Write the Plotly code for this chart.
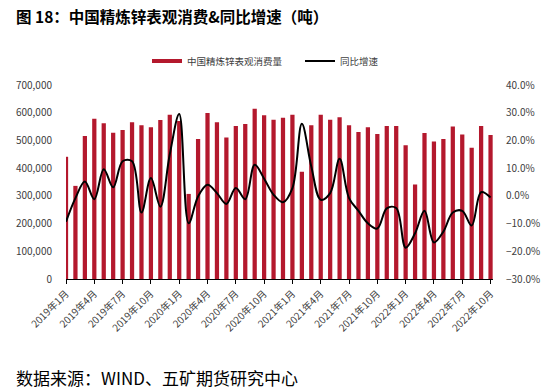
import plotly.graph_objects as go

months = [f"{y}年{m}月" for y in (2019, 2020, 2021, 2022) for m in range(1, 13)][:46]

consumption = [441000, 336000, 516000, 578000, 562000, 528000, 538000, 566000, 555000, 548000, 574000, 593000,
               570000, 307000, 505000, 599000, 566000, 511000, 552000, 559000, 614000, 591000, 575000, 582000,
               593000, 387000, 555000, 593000, 575000, 584000, 555000, 530000, 548000, 523000, 552000, 552000,
               483000, 341000, 527000, 496000, 505000, 550000, 521000, 474000, 552000, 520000]

yoy = [-0.093, -0.008, 0.052, -0.012, 0.096, 0.031, 0.125, 0.125, -0.060, 0.064, -0.039, 0.150,
       0.295, -0.099, -0.002, 0.040, 0.010, -0.029, 0.028, -0.012, 0.112, 0.062, 0.004, -0.023,
       0.028, 0.260, 0.106, -0.014, 0.010, 0.134, -0.008, -0.054, -0.099, -0.118, -0.045, -0.044,
       -0.187, -0.135, -0.054, -0.168, -0.129, -0.060, -0.054, -0.107, 0.013, -0.006]

left_ticks = [0, 100000, 200000, 300000, 400000, 500000, 600000, 700000]
left_ticktext = ["0", "100,000", "200,000", "300,000", "400,000", "500,000", "600,000", "700,000"]
right_ticks = [-0.3, -0.2, -0.1, 0.0, 0.1, 0.2, 0.3, 0.4]

x_idx = list(range(len(months)))
label_idx = list(range(0, len(months), 3))

font_family = "Noto Sans CJK SC, Noto Sans, sans-serif"
tick_font = dict(family=font_family, size=10, color="#404040")
BAR_COLOR = "#B4182D"

fig = go.Figure()
fig.add_trace(go.Bar(
    x=x_idx, y=consumption, name="中国精炼锌表观消费量", showlegend=False,
    marker=dict(color=BAR_COLOR, line=dict(width=0)), width=0.45, yaxis="y",
))
# legend-only entry so the bar series shows as a short thick line like the reference
fig.add_trace(go.Scatter(
    x=[None], y=[None], name="中国精炼锌表观消费量", mode="lines",
    line=dict(color=BAR_COLOR, width=4), yaxis="y",
))
fig.add_trace(go.Scatter(
    x=x_idx, y=yoy, name="同比增速", mode="lines",
    line=dict(color="#000000", width=2, shape="spline", smoothing=1.0), yaxis="y2",
))

fig.update_layout(
    width=541, height=392,
    paper_bgcolor="white", plot_bgcolor="white",
    margin=dict(l=66, r=48, t=85, b=113, autoexpand=False),
    font=dict(family=font_family),
    showlegend=True,
    legend=dict(orientation="h", x=(147 - 66) / 427, xanchor="left", y=1 + (85 - 61) / 194, yanchor="middle",
                font=dict(family=font_family, size=9.5, color="#404040"),
                entrywidth=108, entrywidthmode="pixels", itemwidth=30,
                traceorder="normal", bgcolor="rgba(0,0,0,0)"),
    xaxis=dict(range=[0, 45.26], tickmode="array", tickvals=label_idx,
               ticktext=[months[i] for i in label_idx], tickangle=-45,
               tickfont=tick_font, showline=True, linecolor="black", linewidth=1,
               ticks="outside", ticklen=4, tickcolor="black", showgrid=False, zeroline=False,
               automargin=False),
    yaxis=dict(range=[0, 700000], tickmode="array", tickvals=left_ticks, ticktext=left_ticktext,
               tickfont=tick_font, showgrid=False, zeroline=False, showline=False,
               ticks="outside", ticklen=11, tickcolor="rgba(0,0,0,0)", automargin=False),
    yaxis2=dict(range=[-0.3, 0.4], overlaying="y", side="right", tickmode="array",
                tickvals=right_ticks, tickformat=".1%", tickfont=tick_font,
                showgrid=False, zeroline=False, showline=False,
                ticks="outside", ticklen=10, tickcolor="rgba(0,0,0,0)", automargin=False),
    bargap=0.5,
)

fig.add_annotation(text="<b>图 18：中国精炼锌表观消费&同比增速（吨）</b>", xref="paper", yref="paper",
                   x=-(66 - 14) / 427, y=1 + (85 - 16) / 194, xanchor="left", yanchor="middle", showarrow=False,
                   font=dict(family=font_family, size=15.5, color="black"))
fig.add_annotation(text="数据来源：WIND、五矿期货研究中心", xref="paper", yref="paper",
                   x=-(66 - 14) / 427, y=-(377 - 279) / 194, xanchor="left", yanchor="middle", showarrow=False,
                   font=dict(family=font_family, size=17, color="black"))

fig.write_html("out.html", config={"displayModeBar": False},
               post_script="document.body.style.margin='0';document.body.style.overflow='hidden';")
